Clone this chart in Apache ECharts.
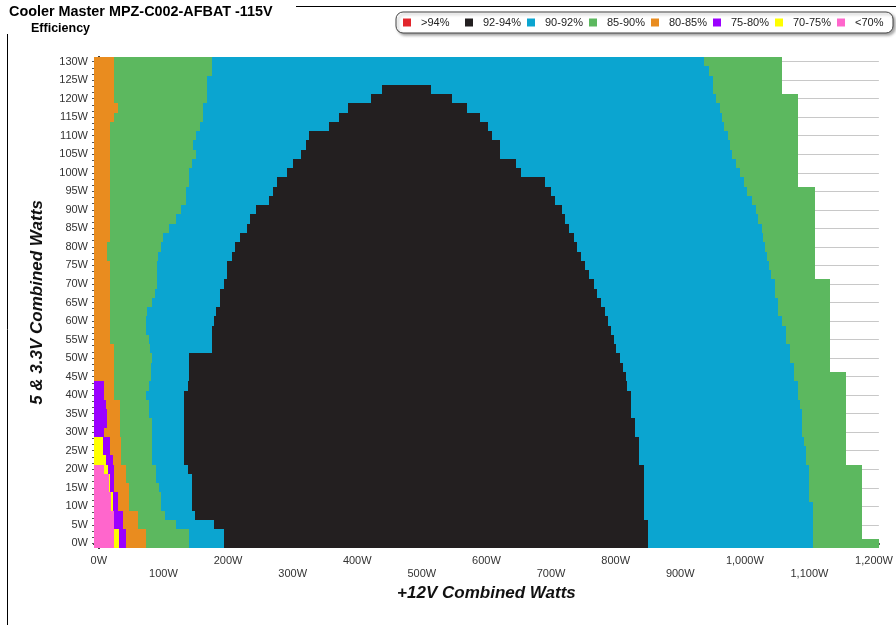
<!DOCTYPE html>
<html>
<head>
<meta charset="utf-8">
<script src="https://cdn.jsdelivr.net/npm/echarts@6/dist/echarts.min.js"></script>
<style>
  html, body { margin: 0; padding: 0; background: #fff; }
  #chart { width: 896px; height: 625px; }
</style>
</head>
<body>
<div id="chart"></div>
<script>
// 5V + 3.3V combined load of each measured row (W), bottom to top
const loadRows = [0, 2.5, 5, 7.5, 10, 12.5, 15, 17.5, 20, 22.5, 25, 27.5, 30, 32.5, 35, 37.5, 40, 42.5,
  45, 47.5, 50, 52.5, 55, 57.5, 60, 62.5, 65, 67.5, 70, 72.5, 75, 77.5, 80, 82.5, 85, 87.5, 90, 92.5,
  95, 97.5, 100, 102.5, 105, 107.5, 110, 112.5, 115, 117.5, 120, 122.5, 125, 127.5, 130];

// +12V load (W) at which each efficiency band ends, row by row (rows past an array's end have no such band)
const pinkEnd = [24, 24, 23, 23, 19, 19, 15, 15, 8];
const yellowEnd = [31, 31, null, null, 22, 22, 18, 18, 14, 11, 6, 6];
const purpleEnd = [42, 42, 37, 37, 30, 30, 24, 24, 23, 22, 18, 18, 8, 13, 13, 11, 8, 8];
const orangeEnd = [73, 73, 60, 60, 47, 47, 47, 42, 42, 34,
  34, 34, 32, 32, 32, 32, 24, 24, 23, 23,
  23, 23, 18, 18, 18, 18, 18, 18, 18, 18,
  18, 13, 13, 17, 17, 17, 17, 17, 17, 17,
  17, 17, 17, 17, 17, 17, 23, 30, 23, 23,
  23, 23, 23];
const greenInnerEnd = [139, 139, 119, 102, 96, 96, 93, 89, 89, 83,
  83, 83, 83, 83, 78, 78, 73, 78, 80, 81,
  83, 79, 78, 73, 73, 75, 83, 87, 90, 90,
  90, 91, 96, 99, 109, 119, 127, 135, 135, 139,
  139, 144, 150, 145, 150, 156, 162, 162, 168, 168,
  168, 175, 175];
const blueInnerEnd = [193, 193, 179, 149, 144, 144, 144, 144, 138, 132,
  132, 132, 132, 132, 132, 132, 132, 138, 139, 139,
  139, 175, 175, 175, 178, 181, 187, 187, 193, 199,
  199, 206, 211, 218, 229, 234, 243, 264, 269, 276,
  291, 300, 313, 321, 325, 357, 372, 385, 422, 438];
const blackEnd = [850, 850, 850, 844, 844, 844, 844, 844, 844, 836,
  836, 836, 830, 830, 824, 824, 824, 818, 816, 811,
  807, 801, 798, 793, 788, 784, 777, 771, 766, 759,
  753, 747, 740, 735, 728, 722, 717, 706, 700, 691,
  654, 645, 621, 621, 609, 603, 590, 570, 547, 514];
const blueOuterEnd = [1105, 1105, 1105, 1105, 1105, 1100, 1100, 1100, 1100, 1094,
  1094, 1091, 1088, 1088, 1088, 1085, 1083, 1083, 1076, 1076,
  1070, 1070, 1064, 1064, 1058, 1052, 1052, 1046, 1046, 1040,
  1038, 1034, 1031, 1028, 1026, 1020, 1017, 1011, 1004, 998,
  992, 986, 980, 977, 974, 968, 965, 962, 956, 950,
  950, 944, 937];
const greenOuterEnd = [1208, 1181, 1181, 1181, 1181, 1181, 1181, 1181, 1181, 1157,
  1157, 1157, 1157, 1157, 1157, 1157, 1157, 1157, 1157, 1132,
  1132, 1132, 1132, 1132, 1132, 1132, 1132, 1132, 1132, 1108,
  1108, 1108, 1108, 1108, 1108, 1108, 1108, 1108, 1108, 1083,
  1083, 1083, 1083, 1083, 1083, 1083, 1083, 1083, 1083, 1058,
  1058, 1058, 1058];

// efficiency classes, in legend order
const classNames = ['>94%', '92-94%', '90-92%', '85-90%', '80-85%', '75-80%', '70-75%', '<70%'];
const classColors = ['#e2262c', '#231f20', '#0ba5d0', '#5cb85f', '#e98c1f', '#9b00ff', '#ffff00', '#ff66cc'];

// axis tick values
const xLabelValues = [0, 100, 200, 300, 400, 500, 600, 700, 800, 900, 1000, 1100, 1200];
const yLabelValues = [0, 5, 10, 15, 20, 25, 30, 35, 40, 45, 50, 55, 60, 65, 70, 75, 80, 85, 90, 95,
  100, 105, 110, 115, 120, 125, 130];

const X_MIN = -7.5, X_MAX = 1207.5, Y_MIN = -1.25, Y_MAX = 131.25, ROW_HALF = 1.25;

// bands from left to right inside every row
const bands = [
  ['<70%', pinkEnd], ['70-75%', yellowEnd], ['75-80%', purpleEnd], ['80-85%', orangeEnd],
  ['85-90%', greenInnerEnd], ['90-92%', blueInnerEnd], ['92-94%', blackEnd],
  ['90-92%', blueOuterEnd], ['85-90%', greenOuterEnd]
];

const cells = {};
classNames.forEach(n => { cells[n] = []; });
loadRows.forEach((y, i) => {
  let start = X_MIN;
  bands.forEach(([name, ends]) => {
    const end = ends[i];
    if (end === undefined || end === null) return;
    cells[name].push([start, Math.min(end, X_MAX), y]);
    start = end;
  });
});

// minor ticks along both axes
const xMinorTicks = [];
for (let v = 0; v <= 1200; v += 25) xMinorTicks.push(v);
const yMinorTicks = [];
for (let k = 0; k <= 78; k++) yMinorTicks.push(k * 5 / 3);

const axisFont = '"Liberation Sans", Arial, sans-serif';

function renderCell(params, api) {
  const cs = params.coordSys;
  const p0 = api.coord([api.value(0), api.value(2) + ROW_HALF]);
  const p1 = api.coord([api.value(1), api.value(2) - ROW_HALF]);
  const left = Math.round(Math.max(p0[0], cs.x));
  const right = Math.round(Math.min(p1[0], cs.x + cs.width));
  const top = Math.round(Math.max(p0[1], cs.y));
  const bottom = Math.round(Math.min(p1[1], cs.y + cs.height));
  if (right <= left || bottom <= top) return null;
  return {
    type: 'rect',
    shape: { x: left, y: top, width: right - left, height: bottom - top },
    style: { fill: api.visual('color') }
  };
}

const chart = echarts.init(document.getElementById('chart'), null, { renderer: 'canvas' });

chart.setOption({
  animation: false,
  backgroundColor: '#fff',
  title: [
    { text: 'Cooler Master MPZ-C002-AFBAT -115V', left: 9, top: 5, padding: 0,
      textStyle: { fontSize: 14.4, fontWeight: 'bold', color: '#000', fontFamily: axisFont } },
    { text: 'Efficiency', left: 31, top: 22, padding: 0,
      textStyle: { fontSize: 12.5, fontWeight: 'bold', color: '#000', fontFamily: axisFont } }
  ],
  legend: {
    data: classNames,
    left: 396, top: 12,
    orient: 'horizontal',
    selectedMode: false,
    icon: 'rect',
    itemWidth: 8, itemHeight: 8, itemGap: 6,
    padding: [4, 0, 4, 7],
    backgroundColor: '#fff',
    borderColor: '#444', borderWidth: 1, borderRadius: 7,
    shadowColor: 'rgba(0,0,0,0.35)', shadowBlur: 3, shadowOffsetX: 2, shadowOffsetY: 2,
    textStyle: { fontSize: 11, color: '#222', fontFamily: axisFont, width: 38, padding: [0, 0, 0, 5], lineHeight: 13 }
  },
  grid: { left: 94, right: 16, top: 57, bottom: 77, containLabel: false },
  xAxis: {
    type: 'value', min: X_MIN, max: X_MAX,
    name: '+12V Combined Watts', nameLocation: 'middle', nameGap: 37,
    nameTextStyle: { fontSize: 17, fontWeight: 'bold', fontStyle: 'italic', color: '#111', fontFamily: axisFont },
    axisLine: { show: true, lineStyle: { color: '#000', width: 2 } },
    axisTick: { show: true, customValues: xMinorTicks, length: 4, lineStyle: { color: '#555' } },
    axisLabel: {
      customValues: xLabelValues, margin: 6, fontSize: 11, color: '#333', fontFamily: axisFont, lineHeight: 13,
      formatter: v => {
        const t = Number(v).toLocaleString('en-US') + 'W';
        return (Math.round(v / 100) % 2 === 1) ? '\n' + t : t;
      }
    },
    splitLine: { show: false }
  },
  yAxis: [
    {
      type: 'value', min: Y_MIN, max: Y_MAX,
      name: '5 & 3.3V Combined Watts', nameLocation: 'middle', nameGap: 48,
      nameTextStyle: { fontSize: 17, fontWeight: 'bold', fontStyle: 'italic', color: '#111', fontFamily: axisFont },
      axisLine: { show: true, lineStyle: { color: '#000', width: 2 } },
      axisTick: { show: true, customValues: yLabelValues, length: 4, lineStyle: { color: '#333' } },
      axisLabel: { customValues: yLabelValues, margin: 6, fontSize: 11, color: '#333', fontFamily: axisFont,
        formatter: v => v + 'W' },
      splitLine: { show: true, lineStyle: { color: '#c8c8c8', width: 1 } }
    },
    {
      type: 'value', min: Y_MIN, max: Y_MAX, position: 'left',
      axisLine: { show: false },
      axisTick: { show: true, customValues: yMinorTicks, length: 2, lineStyle: { color: '#555' } },
      axisLabel: { show: false },
      splitLine: { show: false }
    }
  ],
  graphic: [
    { type: 'line', shape: { x1: 7.5, y1: 34, x2: 7.5, y2: 625 }, style: { stroke: '#000', lineWidth: 1 }, silent: true },
    { type: 'line', shape: { x1: 296, y1: 6.5, x2: 896, y2: 6.5 }, style: { stroke: '#000', lineWidth: 1 }, silent: true }
  ],
  series: classNames.map((name, k) => ({
    type: 'custom',
    name: name,
    xAxisIndex: 0, yAxisIndex: 0,
    itemStyle: { color: classColors[k] },
    encode: { x: [0, 1], y: 2 },
    renderItem: renderCell,
    data: cells[name],
    silent: true
  }))
});
</script>
</body>
</html>
